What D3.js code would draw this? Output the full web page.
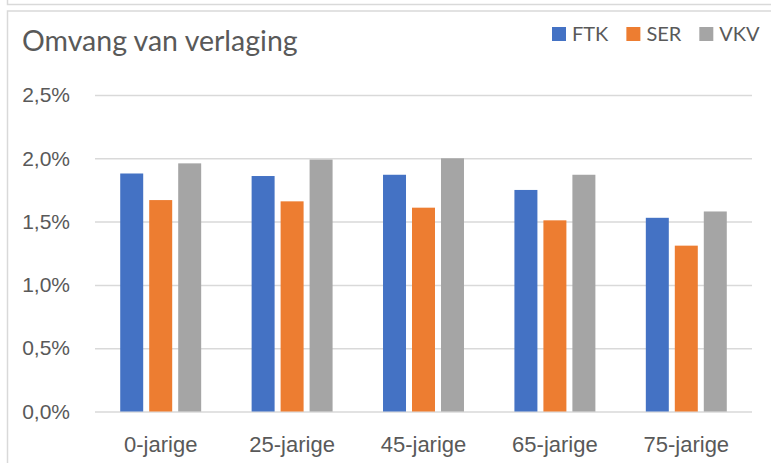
<!DOCTYPE html>
<html>
<head>
<meta charset="utf-8">
<script src="https://cdn.jsdelivr.net/npm/d3@7"></script>
<style>
  body { margin: 0; background: #fff; }
  svg { display: block; font-family: Lato, "Open Sans", sans-serif; }
</style>
</head>
<body>
<div id="chart"></div>
<script>
// data
const categories = ['0-jarige', '25-jarige', '45-jarige', '65-jarige', '75-jarige'];
const seriesNames = ['FTK', 'SER', 'VKV'];
const ftk = [0.0188, 0.0186, 0.0187, 0.0175, 0.0153];
const ser = [0.0167, 0.0166, 0.0161, 0.0151, 0.0131];
const vkv = [0.0196, 0.0199, 0.0200, 0.0187, 0.0158];
const yTicks = [0, 0.005, 0.01, 0.015, 0.02, 0.025];

const colors = ['#4472C4', '#ED7D31', '#A5A5A5'];
const textColor = '#595959';
const lineColor = '#d9d9d9';

const svgWidth = 771;
const svgHeight = 463;

const margin = { top: 95, right: 19, bottom: 51.5, left: 95 };
const width = svgWidth - margin.left - margin.right;
const height = svgHeight - margin.top - margin.bottom;

const nl = d3.formatLocale({ decimal: ',', thousands: '.', grouping: [3], currency: ['€', ''] });
const pct = nl.format('.1%');

const svg = d3.select('#chart')
  .append('svg')
  .attr('width', svgWidth)
  .attr('height', svgHeight);

// frame lines (the chart border plus the bottom edge of the one above it)
svg.append('path')
  .attr('d', `M7.5,0V4.5H${svgWidth}`)
  .attr('fill', 'none').attr('stroke', lineColor).attr('stroke-width', 1.5);
svg.append('path')
  .attr('d', `M7.5,${svgHeight}V11H${svgWidth}`)
  .attr('fill', 'none').attr('stroke', lineColor).attr('stroke-width', 1.5);

svg.append('text')
  .attr('x', 22)
  .attr('y', 51)
  .attr('fill', textColor)
  .style('font-size', '28.5px')
  .text('Omvang van verlaging');

const chartGroup = svg.append('g')
  .attr('transform', `translate(${margin.left}, ${margin.top})`);

const x0 = d3.scaleBand()
  .domain(categories)
  .range([0, width]);

const x1 = d3.scaleBand()
  .domain(seriesNames)
  .range([0, x0.bandwidth()])
  .paddingInner(0.207)
  .paddingOuter(0.87);

const y = d3.scaleLinear()
  .domain([0, 0.025])
  .range([height, 0]);

// gridlines + y labels
const yAxis = chartGroup.append('g')
  .call(d3.axisLeft(y).tickValues(yTicks).tickFormat(pct).tickSize(-width).tickPadding(25));
yAxis.select('.domain').remove();
yAxis.selectAll('line').attr('stroke', lineColor).attr('stroke-width', 1.5);
yAxis.selectAll('text').attr('fill', textColor).style('font-size', '21px');

const table = categories.map((c, i) => ({ cat: c, vals: [ftk[i], ser[i], vkv[i]] }));

const groups = chartGroup.selectAll('.grp')
  .data(table)
  .enter()
  .append('g')
  .attr('transform', d => `translate(${x0(d.cat)}, 0)`);

groups.selectAll('rect')
  .data(d => d.vals.map((v, j) => ({ name: seriesNames[j], v: v, j: j })))
  .enter()
  .append('rect')
  .attr('x', d => x1(d.name))
  .attr('width', x1.bandwidth())
  .attr('y', d => y(d.v))
  .attr('height', d => y(0) - y(d.v))
  .attr('fill', d => colors[d.j]);

// x labels
const xAxis = chartGroup.append('g')
  .attr('transform', `translate(0, ${height})`)
  .call(d3.axisBottom(x0).tickSize(0).tickPadding(25));
xAxis.select('.domain').remove();
xAxis.selectAll('text').attr('fill', textColor).style('font-size', '22px');

// legend, laid out left to right
const legend = svg.append('g');
const items = legend.selectAll('g')
  .data(seriesNames)
  .enter()
  .append('g');
items.append('rect')
  .attr('y', 27)
  .attr('width', 14)
  .attr('height', 14)
  .attr('fill', (d, i) => colors[i]);
items.append('text')
  .attr('x', 20)
  .attr('y', 40.5)
  .attr('fill', textColor)
  .style('font-size', '20px')
  .text(d => d);

let lx = 552;
items.each(function () {
  const w = d3.select(this).select('text').node().getComputedTextLength();
  d3.select(this).attr('transform', `translate(${lx}, 0)`);
  lx += 20 + w + 18;
});
</script>
</body>
</html>
